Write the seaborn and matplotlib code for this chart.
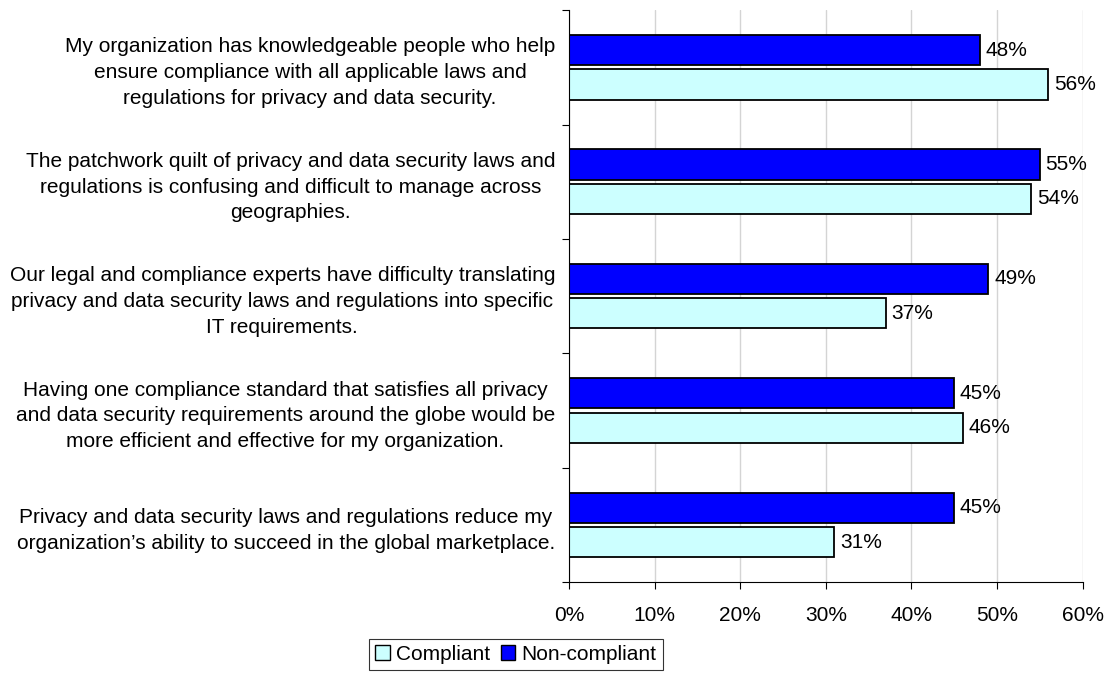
import matplotlib
matplotlib.use("Agg")
import matplotlib.pyplot as plt
from matplotlib.patches import Patch
from matplotlib.ticker import FixedLocator, PercentFormatter
import seaborn as sns
import pandas as pd

statements = [
    "My organization has knowledgeable people who help\nensure compliance with all applicable laws and\nregulations for privacy and data security.",
    "The patchwork quilt of privacy and data security laws and\nregulations is confusing and difficult to manage across\ngeographies.",
    "Our legal and compliance experts have difficulty translating\nprivacy and data security laws and regulations into specific\nIT requirements.",
    "Having one compliance standard that satisfies all privacy\nand data security requirements around the globe would be\nmore efficient and effective for my organization.",
    "Privacy and data security laws and regulations reduce my\norganization\u2019s ability to succeed in the global marketplace.",
]
non_compliant = [48, 55, 49, 45, 45]
compliant = [56, 54, 37, 46, 31]
groups = ["Non-compliant", "Compliant"]
palette = {"Non-compliant": "#0000FF", "Compliant": "#CCFFFF"}

df = pd.DataFrame({
    "statement": statements * 2,
    "group": ["Non-compliant"] * len(statements) + ["Compliant"] * len(statements),
    "pct": non_compliant + compliant,
})

FS = 15

sns.set_theme(style="white")
plt.rcParams["font.family"] = ["Liberation Sans", "DejaVu Sans"]
plt.rcParams["text.color"] = "black"
plt.rcParams["xtick.color"] = "black"
plt.rcParams["ytick.color"] = "black"

fig = plt.figure(figsize=(11.07, 6.73), dpi=100)
ax = fig.add_axes([0.514, 0.135, 0.464, 0.85])

sns.barplot(
    data=df, y="statement", x="pct", hue="group", hue_order=groups,
    order=statements, palette=palette, orient="h", width=0.6, gap=0.12,
    edgecolor="black", linewidth=1.3, saturation=1, ax=ax, legend=False,
)

for container in ax.containers:
    ax.bar_label(container, fmt="%d%%", padding=4, fontsize=FS, color="black")

ax.set_xlim(0, 60)
ax.set_ylim(len(statements) - 0.5, -0.5)
ax.set_xticks(range(0, 61, 10))
ax.xaxis.set_major_formatter(PercentFormatter(decimals=0))
ax.set_xlabel("")
ax.set_ylabel("")

ax.yaxis.set_minor_locator(FixedLocator([i - 0.5 for i in range(len(statements) + 1)]))
ax.tick_params(axis="y", which="major", length=0, pad=10, labelsize=FS, labelcolor="black")
ax.tick_params(axis="y", which="minor", left=True, length=5, width=0.8, color="black", direction="out")
ax.tick_params(axis="x", which="major", bottom=True, length=5, width=0.8, color="black",
               direction="out", pad=12, labelsize=FS, labelcolor="black")
for lbl in ax.get_yticklabels():
    lbl.set_multialignment("center")
    lbl.set_linespacing(1.45)

ax.grid(axis="x", color="#d4d4d4", linewidth=1)
ax.grid(axis="y", visible=False)
ax.set_axisbelow(True)
for side in ("top", "right"):
    ax.spines[side].set_visible(False)
for side in ("left", "bottom"):
    ax.spines[side].set_color("black")
    ax.spines[side].set_linewidth(0.8)

handles = [Patch(facecolor=palette["Compliant"], edgecolor="black", linewidth=1, label="Compliant"),
           Patch(facecolor=palette["Non-compliant"], edgecolor="black", linewidth=1, label="Non-compliant")]
leg = fig.legend(handles=handles, loc="upper center", bbox_to_anchor=(0.466, 0.051), ncol=2,
                 frameon=True, fancybox=False, edgecolor="black", fontsize=FS,
                 handlelength=0.7, handleheight=0.7, handletextpad=0.3, columnspacing=0.5,
                 borderpad=0.3, borderaxespad=0)
leg.get_frame().set_linewidth(0.8)

fig.savefig("out.png", dpi=100, facecolor="white")
